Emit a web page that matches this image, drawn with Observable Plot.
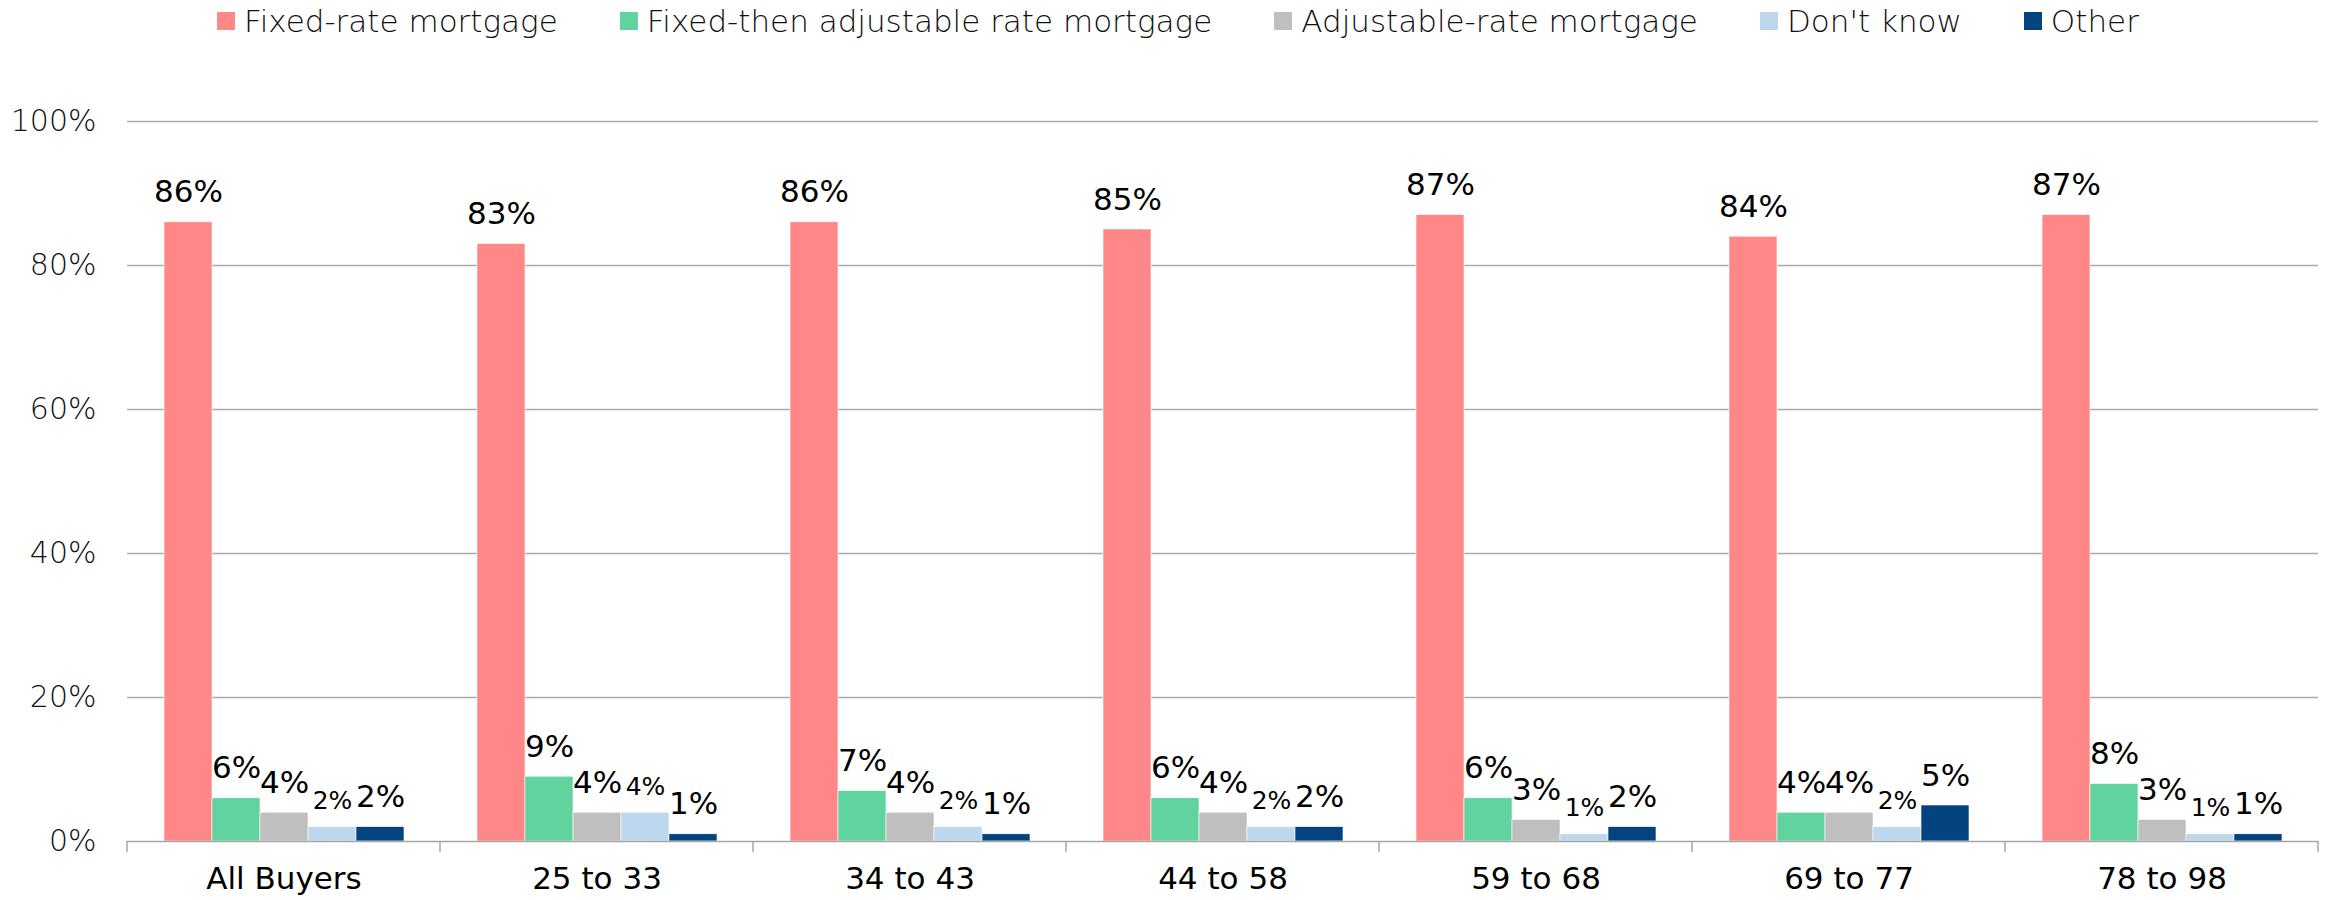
<!DOCTYPE html>
<html><head><meta charset="utf-8">
<script src="https://cdn.jsdelivr.net/npm/d3@7"></script>
<script src="https://cdn.jsdelivr.net/npm/@observablehq/plot@0.6"></script>
<style>
html,body{margin:0;padding:0;background:#fff;overflow:hidden;}
#legend{display:flex;justify-content:center;align-items:center;gap:62px;height:42px;font-family:"DejaVu Sans";font-size:31px;font-weight:200;color:#111;padding-left:28px;box-sizing:border-box;width:2328px;overflow:hidden;}
.item{display:flex;align-items:center;gap:9px;white-space:nowrap;line-height:42px;}
.sw{width:18px;height:18px;display:inline-block;}
#chart svg{display:block;}
</style></head><body>
<div id="legend"></div><div id="chart"></div>
<script>
const groups = ["All Buyers", "25 to 33", "34 to 43", "44 to 58", "59 to 68", "69 to 77", "78 to 98"];
const series = ["Fixed-rate mortgage", "Fixed-then adjustable rate mortgage", "Adjustable-rate mortgage", "Don't know", "Other"];
const colors = ["#ff8787", "#61d39e", "#bfbfbf", "#bdd7ee", "#03437f"];
const fixedRate  = [86, 83, 86, 85, 87, 84, 87];
const fixedThen  = [6, 9, 7, 6, 6, 4, 8];
const adjustable = [4, 4, 4, 4, 3, 4, 3];
const dontKnow   = [2, 4, 2, 2, 1, 2, 1];
const other      = [2, 1, 1, 2, 2, 5, 1];
const yTicks = [0, 20, 40, 60, 80, 100];

const valuesBySeries = [fixedRate, fixedThen, adjustable, dontKnow, other];
const data = [];
groups.forEach((g, i) => series.forEach((s, j) => data.push({group: g, series: s, value: valuesBySeries[j][i]})));

// legend
const legend = document.getElementById("legend");
series.forEach((s, j) => {
  const it = document.createElement("div"); it.className = "item";
  const sw = document.createElement("span"); sw.className = "sw"; sw.style.background = colors[j];
  const tx = document.createElement("span"); tx.textContent = s;
  it.appendChild(sw); it.appendChild(tx); legend.appendChild(it);
});

const H = 858;
const chart = Plot.plot({
  width: 2328, height: H,
  marginLeft: 125, marginRight: 9, marginTop: 79, marginBottom: 59,
  style: {fontFamily: "DejaVu Sans", background: "white", color: "#111"},
  fx: {domain: groups, padding: 0, label: null},
  x: {domain: series, paddingInner: 0, paddingOuter: 0.75, axis: null},
  y: {domain: [0, 100], label: null},
  color: {domain: series, range: colors},
  marks: [
    Plot.ruleY(yTicks.filter(d => d > 0), {stroke: "#ababab", strokeWidth: 1.5}),
    Plot.barY(data, {fx: "group", x: "series", y: "value", fill: "series", stroke: "white", strokeWidth: 0.6}),
    Plot.ruleY([0], {stroke: "#a6a6a6", strokeWidth: 1.5}),
    Plot.text(data.filter(d => d.series !== "Don't know"), {fx: "group", x: "series", y: "value", text: d => d.value + "%", lineAnchor: "bottom", dy: -20, fontSize: 31, fill: "#000"}),
    Plot.text(data.filter(d => d.series === "Don't know"), {fx: "group", x: "series", y: "value", text: d => d.value + "%", lineAnchor: "bottom", dy: -18, fontSize: 25, fill: "#000"}),
    Plot.axisY({ticks: yTicks, tickFormat: d => d + "%", tickSize: 0, tickPadding: 31, fontSize: 30, fontWeight: 200, label: null, fill: "#111"}),
    Plot.axisFx({anchor: "bottom", tickSize: 0, tickPadding: 25, fontSize: 31, label: null, fill: "#000"})
  ]
});
document.getElementById("chart").appendChild(chart);

// boundary ticks under the category axis, positioned with Plot's own scales
const fx = chart.scale("fx"), y = chart.scale("y");
const edges = groups.map(g => fx.apply(g)).concat([fx.apply(groups[groups.length - 1]) + fx.bandwidth]);
const y0 = y.apply(0);
d3.select(chart).append("g").selectAll("line").data(edges).join("line")
  .attr("x1", d => d).attr("x2", d => d).attr("y1", y0).attr("y2", y0 + 11)
  .attr("stroke", "#a6a6a6").attr("stroke-width", 1.5);
</script>
</body></html>
